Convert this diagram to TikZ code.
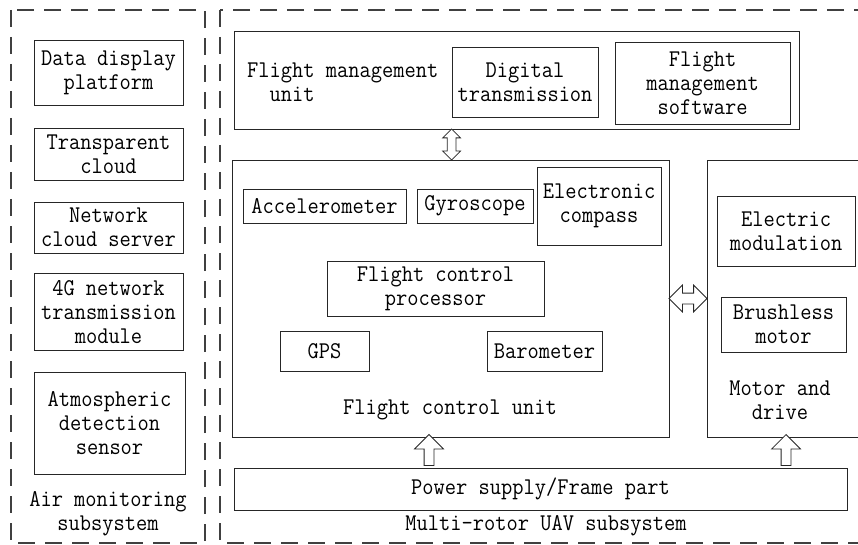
\documentclass[tikz,border=0pt]{standalone}
\usepackage{fontspec}
\setmonofont[FakeStretch=0.91]{Latin Modern Mono}
\usetikzlibrary{shapes.arrows}

\tikzset{
    mainbox/.style={draw=black!85, line width=0.8pt, inner sep=0pt},
    subbox/.style={draw=black!85, line width=0.8pt, align=center, inner sep=1pt},
    captext/.style={align=center, inner sep=0pt},
    sysframe/.style={draw=black!75, line width=1.2pt, dash pattern=on 17pt off 10pt},
    dblarr/.style={draw=black!85, line width=0.8pt, fill=white, double arrow,
        inner xsep=0pt},
    uparr/.style={draw=black!85, line width=0.8pt, fill=white, single arrow,
        single arrow head extend=9.5pt, inner xsep=0pt, inner ysep=4.5pt,
        minimum height=31pt, rotate=90}
}

\begin{document}
\begin{tikzpicture}[x=1pt,y=-1pt,font=\fontsize{24}{24}\selectfont\ttfamily]
    \useasboundingbox (0,0) rectangle (858,545);
    \clip (0,0) rectangle (858,545);

    % Subsystem frames
    \draw[sysframe] (11,10) rectangle (205,543);
    \draw[sysframe] (220,10) rectangle (890,543);

    % Air monitoring subsystem
    \node[subbox, minimum width=149, minimum height=65] (ddp) at (108.5,73) {Data display\\platform};
    \node[subbox, minimum width=149, minimum height=52] (tcl) at (108.5,154) {Transparent\\cloud};
    \node[subbox, minimum width=149, minimum height=51] (ncs) at (108.5,227.5) {Network\\cloud server};
    \node[subbox, minimum width=149, minimum height=77] (gtm) at (108.5,312) {4G network\\transmission\\module};
    \node[subbox, minimum width=151, minimum height=102] (ads) at (109.5,423) {Atmospheric\\detection\\sensor};
    \node[captext] (amst) at (108,514) {Air monitoring\\subsystem};

    % Flight management unit
    \node[mainbox, minimum width=565, minimum height=98] (fmu) at (516.5,80) {};
    \node[captext, anchor=west, align=left] (fmut) at (247,82) {Flight management\\\phantom{Fl}unit};
    \node[subbox, minimum width=146, minimum height=70] (dtr) at (525,82) {Digital\\transmission};
    \node[subbox, minimum width=175, minimum height=82] (fms) at (702.5,83) {Flight\\management\\software};

    % Flight control unit
    \node[mainbox, minimum width=437, minimum height=277] (fcu) at (450.5,298.5) {};
    \node[subbox, minimum width=163, minimum height=34] (acc) at (324.5,206) {Accelerometer};
    \node[subbox, minimum width=116, minimum height=34] (gyr) at (475,206) {Gyroscope};
    \node[subbox, minimum width=124, minimum height=78] (ecm) at (599,206) {Electronic\\compass};
    \node[subbox, minimum width=217, minimum height=55] (fcp) at (435.5,288.5) {Flight control\\processor};
    \node[subbox, minimum width=89, minimum height=40] (gps) at (324.5,351) {GPS};
    \node[subbox, minimum width=115, minimum height=40] (bar) at (544.5,351) {Barometer};
    \node[captext] (fcut) at (450,410) {Flight control unit};

    % Motor and drive
    \node[mainbox, minimum width=183, minimum height=277] (mad) at (798.5,298.5) {};
    \node[subbox, minimum width=138, minimum height=70] (emo) at (786,231) {Electric\\modulation};
    \node[subbox, minimum width=125, minimum height=55] (bmo) at (783.5,324.5) {Brushless\\motor};
    \node[captext] (madt) at (780,400) {Motor and\\drive};

    % Power supply
    \node[subbox, minimum width=613, minimum height=42] (psf) at (540.5,489) {Power supply/Frame part};
    \node[captext] (mrst) at (546,526) {Multi-rotor UAV subsystem};

    % Links
    \path (fmu.south -| dtr.west) -- (fcu.north -| dtr.west)
        node[midway, dblarr, rotate=90, minimum height=31, double arrow head extend=4.5pt, inner ysep=4pt] {};
    \path (fcu.east) -- (mad.west)
        node[midway, dblarr, minimum height=38, double arrow head extend=8pt, inner ysep=5pt] {};
    \path (psf.north -| 429,0) -- (fcu.south -| 429,0) node[midway, uparr] {};
    \path (psf.north -| 786,0) -- (mad.south -| 786,0) node[midway, uparr] {};
\end{tikzpicture}
\end{document}
